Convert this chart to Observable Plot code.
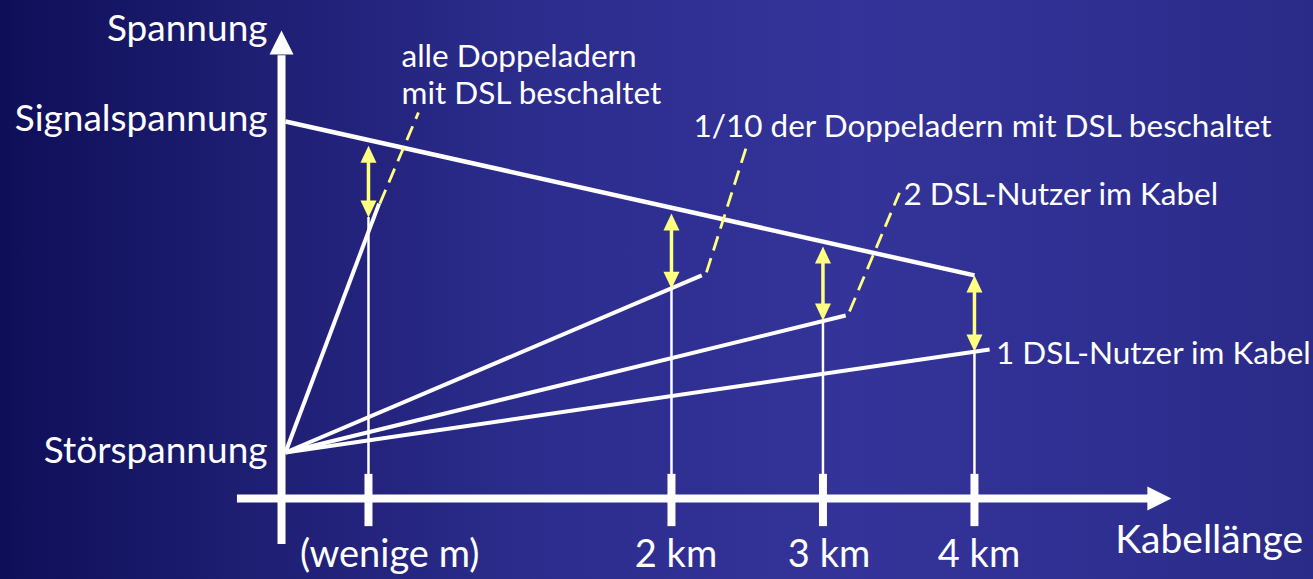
<!DOCTYPE html>
<html><head><meta charset="utf-8">
<script src="https://cdn.jsdelivr.net/npm/d3@7"></script>
<script src="https://cdn.jsdelivr.net/npm/@observablehq/plot@0.6"></script>
<style>
html,body{margin:0;padding:0;}
body{width:1313px;height:579px;overflow:hidden;background:linear-gradient(to right,#0e0e58 0%,#1b1b6e 15%,#2d2d8f 42%,#333399 65%,#2f2f92 85%,#2a2a88 100%);}
svg{display:block;}
</style></head><body><div id="chart"></div>
<script>
// ---- data (x in km, y in relative voltage: Störspannung = 0, Signalspannung = 100) ----
const levelNames = ["Spannung", "Signalspannung", "Störspannung"];
const levelV = [100, 100, 0];
const levelLabelV = [124.2, 97.0, -3.3];
const signalEndKm = 4;
const signalEndV = 53.5;

const tickKm = [0, 2, 3, 4];
const tickLabels = ["(wenige m)", "2 km", "3 km", "4 km"];
const tickLabelKm = [0.14, 2.03, 3.04, 4.03];

const signalAtTick = [92.7, 72.2, 62.2, 53.5];
const noiseAtTick = [71.0, 49.5, 39.9, 30.5];
const noiseEndKm = [0.07, 2.2, 3.15, 4.1];
const noiseEndV = [75.2, 53.5, 41.4, 31.1];

const caseLabels = ["alle Doppeladern\nmit DSL beschaltet", "1/10 der Doppeladern mit DSL beschaltet", "2 DSL-Nutzer im Kabel", "1 DSL-Nutzer im Kabel"];
const caseLabelKm = [0.218, 2.145, 3.531, 4.142];
const caseLabelV = [117.5, 96.4, 75.8, 27.8];

const leaderFromKm = [0.075, 2.231, 3.175];
const leaderFromV = [75.2, 54.4, 42.6];
const leaderToKm = [0.33, 2.495, 3.505];
const leaderToV = [102.7, 92.4, 78.5];

// axis frame (data units)
const axisKm = -0.574;
const axisV = -13.9;
const xAxisFromKm = -0.865, xAxisToKm = 5.16, xAxisTipKm = 5.30;
const yAxisFromV = -27.8, yAxisToV = 119.9, yAxisTipV = 127.5;
const tickTopV = -6.6, tickBottomV = -22.4;
const xAxisTitle = "Kabellänge";
const xAxisTitleKm = 4.93, xAxisTitleV = -30.5;
const tickLabelV = -34.7;

// ---- build tables ----
const noiseLines = tickKm.map((k, i) => ({x1: axisKm + 0.026, y1: 0, x2: noiseEndKm[i], y2: noiseEndV[i]}));
const dropLines = tickKm.map((k, i) => ({x: k, y1: noiseAtTick[i], y2: axisV}));
const arrows = tickKm.map((k, i) => ({x: k, top: signalAtTick[i], bottom: noiseAtTick[i]}));
const leaders = leaderFromKm.map((k, i) => ({x1: k, y1: leaderFromV[i], x2: leaderToKm[i], y2: leaderToV[i]}));
const cases = caseLabels.map((t, i) => ({t, x: caseLabelKm[i], y: caseLabelV[i]}));
const levels = levelNames.map((t, i) => ({t, y: levelLabelV[i]}));
const ticks = tickKm.map((k, i) => ({k, lx: tickLabelKm[i], t: tickLabels[i]}));

const yellow = "#ffff80";
const headSmall = {draw(ctx) { ctx.moveTo(0, 0); ctx.lineTo(8, 17); ctx.lineTo(-8, 17); ctx.closePath(); }};
const headBig = {draw(ctx) { ctx.moveTo(0, 0); ctx.lineTo(12, 24); ctx.lineTo(-12, 24); ctx.closePath(); }};
const font = "Lato, 'Open Sans', sans-serif";
// baseline placed at y: lineAnchor top puts first baseline at +0.71em, undone with dy
const txt = (fs) => ({fill: "white", fontSize: fs, fontFamily: font, lineAnchor: "top", dy: -0.71 * fs});

const chart = Plot.plot({
  width: 1313, height: 579,
  margin: 0,
  style: {background: "transparent"},
  x: {domain: [-2.429, 6.238], axis: null},
  y: {domain: [-38.37, 136.56], axis: null},
  marks: [
    // axes
    Plot.ruleY([axisV], {x1: xAxisFromKm, x2: xAxisToKm, stroke: "white", strokeWidth: 8}),
    Plot.ruleX([axisKm], {y1: yAxisFromV, y2: yAxisToV, stroke: "white", strokeWidth: 8}),
    Plot.dot([{x: xAxisTipKm, y: axisV, r: 90}, {x: axisKm, y: yAxisTipV, r: 0}], {x: "x", y: "y", rotate: "r", symbol: headBig, fill: "white", stroke: "none"}),
    Plot.ruleX(tickKm, {x: d => d, y1: tickTopV, y2: tickBottomV, stroke: "white", strokeWidth: 8}),
    // drop lines
    Plot.ruleX(dropLines, {x: "x", y1: "y1", y2: "y2", stroke: "white", strokeWidth: 2.5}),
    // signal line
    Plot.link([{x1: axisKm + 0.026, y1: levelV[1], x2: signalEndKm, y2: signalEndV}], {x1: "x1", y1: "y1", x2: "x2", y2: "y2", stroke: "white", strokeWidth: 4.5}),
    // noise lines
    Plot.link(noiseLines, {x1: "x1", y1: "y1", x2: "x2", y2: "y2", stroke: "white", strokeWidth: 4}),
    // leaders
    Plot.link(leaders, {x1: "x1", y1: "y1", x2: "x2", y2: "y2", stroke: yellow, strokeWidth: 2.8, strokeDasharray: "15,8"}),
    // yellow double arrows
    Plot.ruleX(arrows, {x: "x", y1: "top", y2: "bottom", stroke: yellow, strokeWidth: 3.5, insetTop: 10, insetBottom: 10}),
    Plot.dot(arrows, {x: "x", y: "top", symbol: headSmall, rotate: 0, fill: yellow, stroke: "none"}),
    Plot.dot(arrows, {x: "x", y: "bottom", symbol: headSmall, rotate: 180, fill: yellow, stroke: "none"}),
    // texts
    Plot.text(levels, {x: axisKm, y: "y", text: "t", textAnchor: "end", dx: -14, ...txt(37)}),
    Plot.text(cases, {x: "x", y: "y", text: "t", textAnchor: "start", lineHeight: 1.17, ...txt(31.5)}),
    Plot.text(ticks, {x: "lx", y: tickLabelV, text: "t", textAnchor: "middle", ...txt(38)}),
    Plot.text([xAxisTitle], {x: xAxisTitleKm, y: xAxisTitleV, text: d => d, textAnchor: "start", ...txt(39)})
  ]
});
document.getElementById("chart").appendChild(chart);
</script></body></html>
